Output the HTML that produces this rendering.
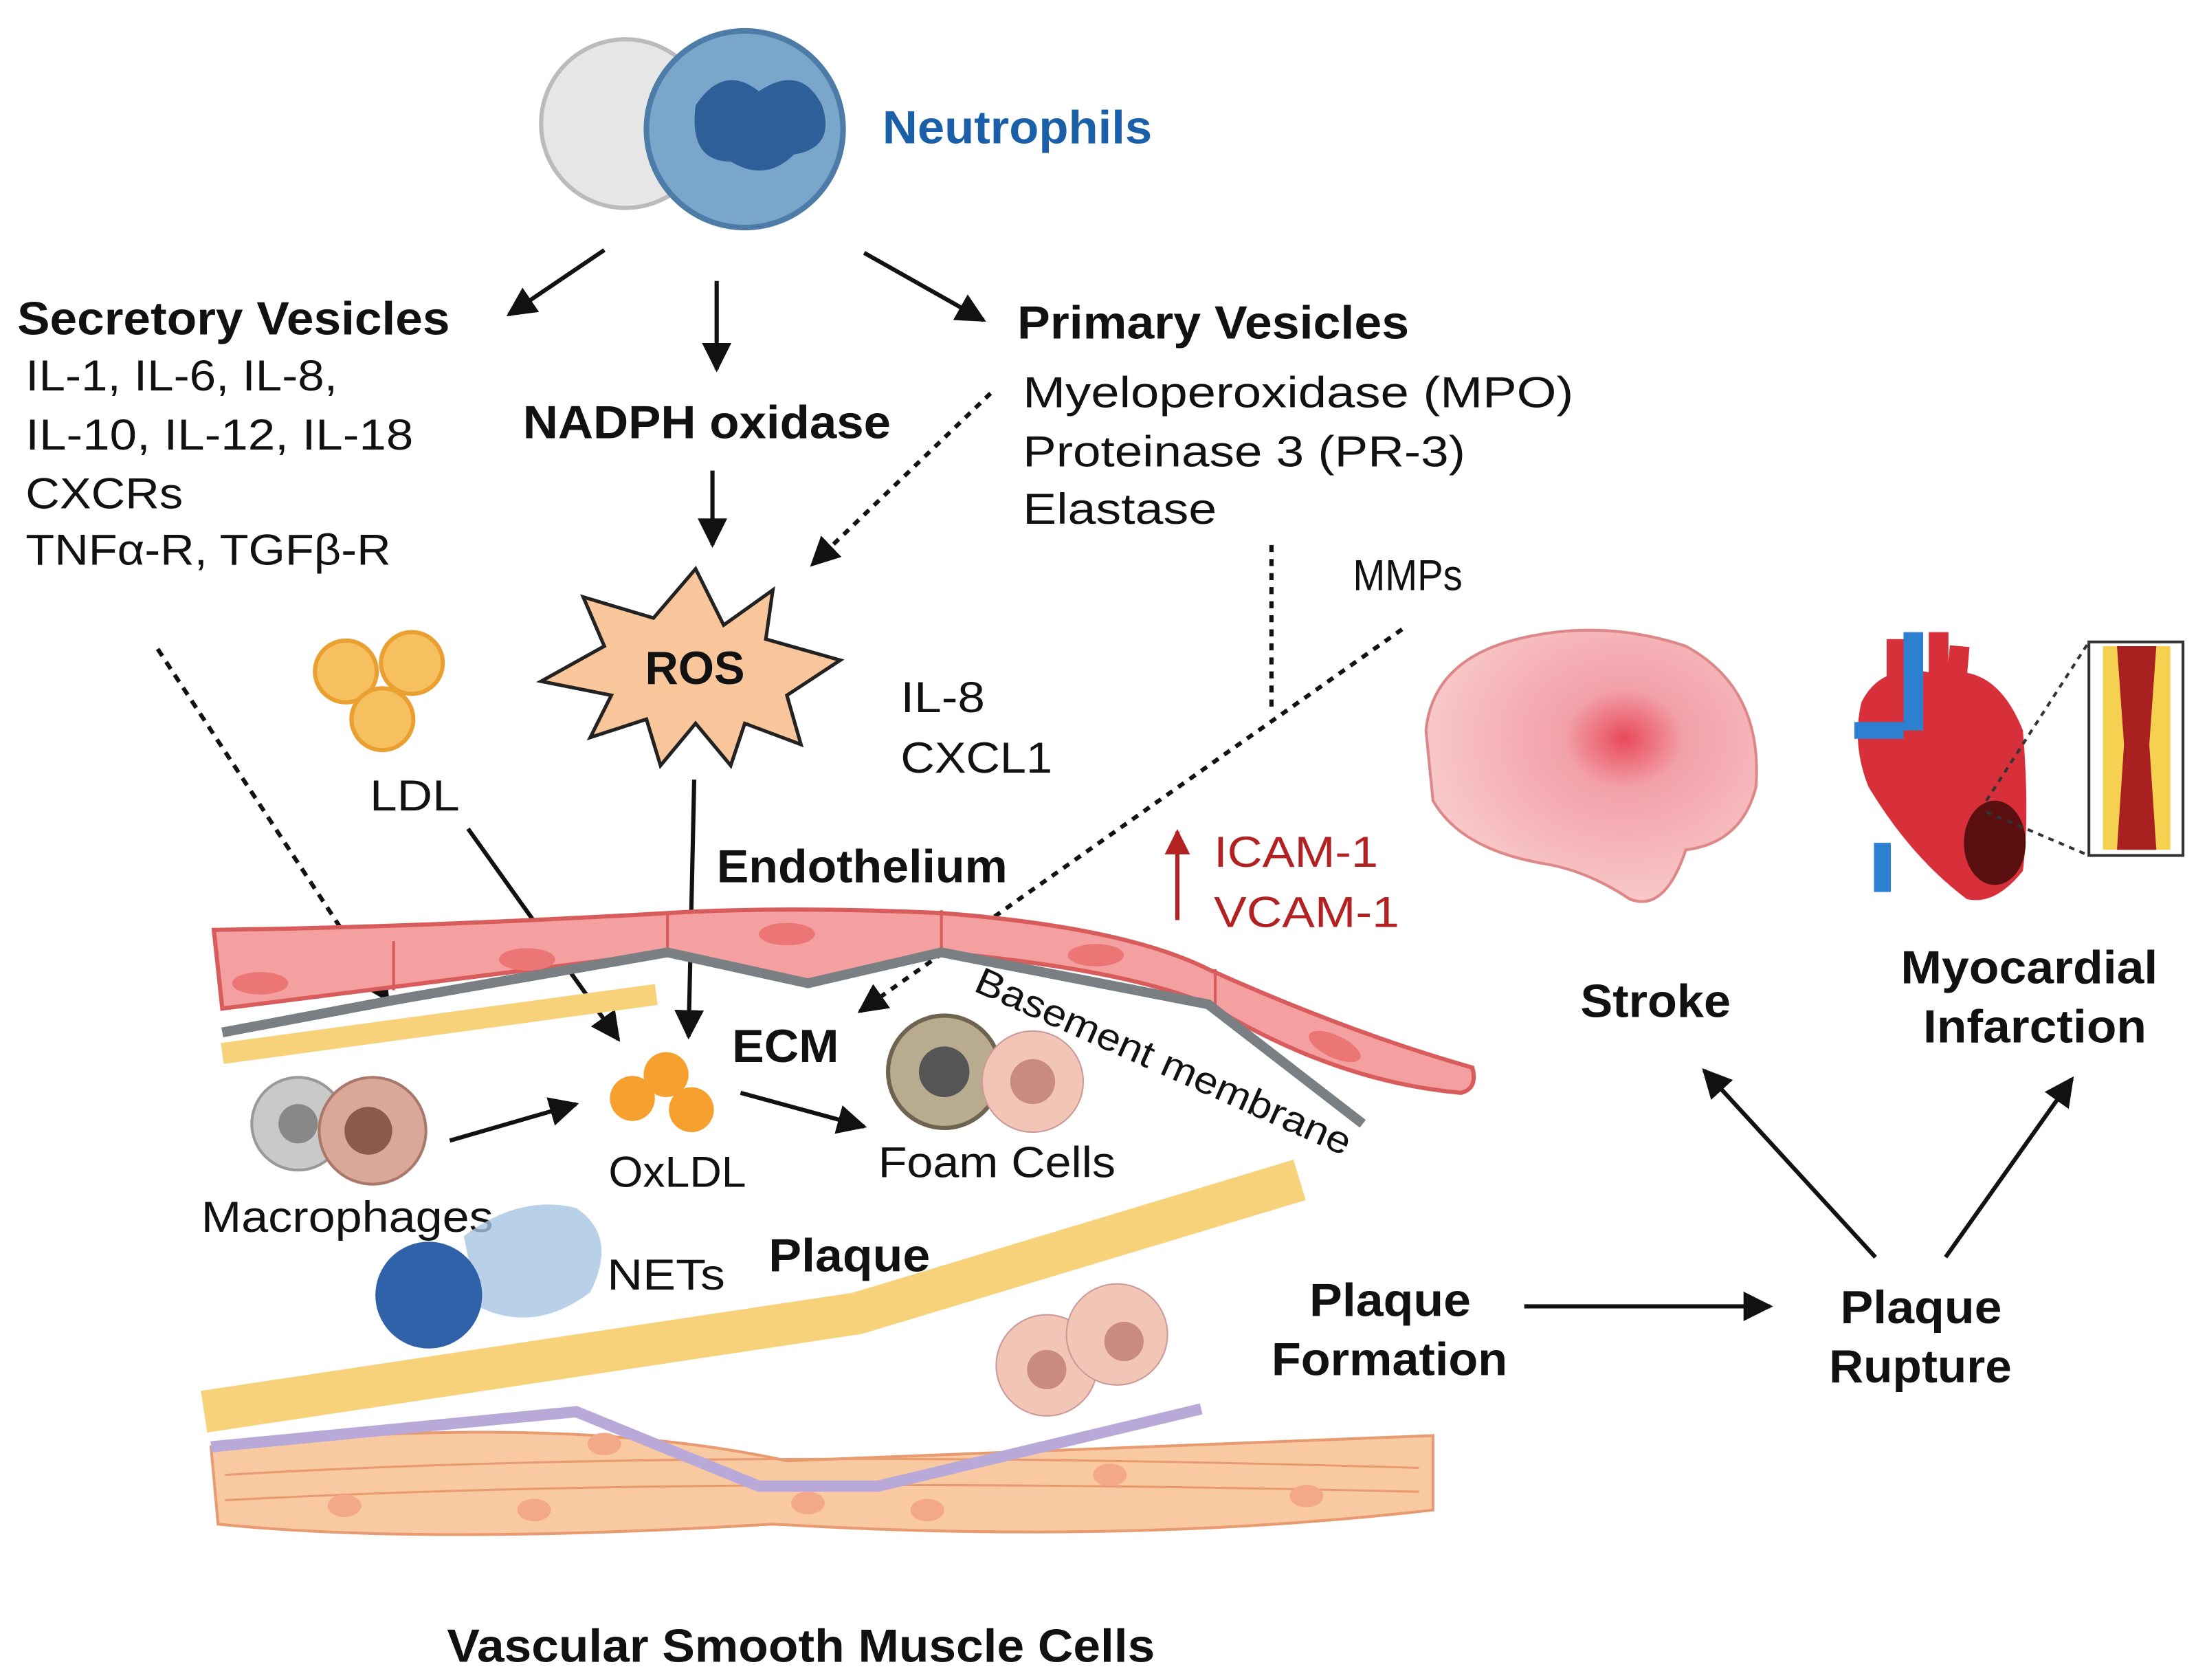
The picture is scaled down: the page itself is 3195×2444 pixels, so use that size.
<!DOCTYPE html>
<html><head><meta charset="utf-8"><style>
html,body{margin:0;padding:0;background:#fff}
svg{display:block}
text{font-family:"Liberation Sans",sans-serif;fill:#111}
.b{font-weight:bold}
</style></head><body>
<svg width="3195" height="2444" viewBox="0 0 1563 1196" xmlns="http://www.w3.org/2000/svg">
<defs>
<marker id="ah" viewBox="0 0 10 10" refX="9" refY="5" markerWidth="7" markerHeight="7" orient="auto"><path d="M0,0 L10,5 L0,10 z" fill="#111"/></marker>
<marker id="ar" viewBox="0 0 10 10" refX="9" refY="5" markerWidth="6" markerHeight="6" orient="auto"><path d="M0,0 L10,5 L0,10 z" fill="#b22222"/></marker>
<radialGradient id="br" cx="0.6" cy="0.4" r="0.6"><stop offset="0" stop-color="#e84a5a"/><stop offset="0.3" stop-color="#f2a0a8"/><stop offset="1" stop-color="#f8c8c8"/></radialGradient>
</defs>

<circle cx="445" cy="88" r="60" fill="#e6e6e6" stroke="#bbb" stroke-width="3"/>
<circle cx="530" cy="92" r="70" fill="#7aa6cc" stroke="#4d7ca8" stroke-width="4"/>
<path d="M495,75 q20,-30 45,-10 q30,-20 45,10 q10,30 -20,35 q-20,20 -45,5 q-30,0 -25,-40z" fill="#2f5f99"/>
<text x="628" y="102" class="b" font-size="33" textLength="192" lengthAdjust="spacingAndGlyphs" style="fill:#1a5fa8">Neutrophils</text>

<text x="12" y="238" class="b" font-size="33" textLength="308" lengthAdjust="spacingAndGlyphs">Secretory Vesicles</text>
<text x="18" y="278" font-size="31" textLength="222" lengthAdjust="spacingAndGlyphs">IL-1, IL-6, IL-8,</text>
<text x="18" y="320" font-size="31" textLength="276" lengthAdjust="spacingAndGlyphs">IL-10, IL-12, IL-18</text>
<text x="18" y="362" font-size="31" textLength="112" lengthAdjust="spacingAndGlyphs">CXCRs</text>
<text x="18" y="402" font-size="31" textLength="260" lengthAdjust="spacingAndGlyphs">TNFα-R, TGFβ-R</text>
<text x="372" y="312" class="b" font-size="33" textLength="262" lengthAdjust="spacingAndGlyphs">NADPH oxidase</text>
<text x="724" y="241" class="b" font-size="33" textLength="279" lengthAdjust="spacingAndGlyphs">Primary Vesicles</text>
<text x="728" y="290" font-size="31" textLength="392" lengthAdjust="spacingAndGlyphs">Myeloperoxidase (MPO)</text>
<text x="728" y="332" font-size="31" textLength="315" lengthAdjust="spacingAndGlyphs">Proteinase 3 (PR-3)</text>
<text x="728" y="373" font-size="31" textLength="138" lengthAdjust="spacingAndGlyphs">Elastase</text>
<text x="963" y="420" font-size="31" textLength="78" lengthAdjust="spacingAndGlyphs">MMPs</text>

<g stroke="#111" stroke-width="3" fill="none">
<line x1="430" y1="178" x2="362" y2="224" marker-end="url(#ah)"/>
<line x1="510" y1="200" x2="510" y2="263" marker-end="url(#ah)"/>
<line x1="615" y1="180" x2="700" y2="228" marker-end="url(#ah)"/>
<line x1="507" y1="335" x2="507" y2="388" marker-end="url(#ah)"/>
<line x1="705" y1="280" x2="578" y2="402" stroke-dasharray="5,5" marker-end="url(#ah)"/>
<line x1="112" y1="462" x2="276" y2="712" stroke-dasharray="6,5" marker-end="url(#ah)"/>
<line x1="333" y1="590" x2="440" y2="740" marker-end="url(#ah)"/>
<line x1="494" y1="555" x2="490" y2="738" marker-end="url(#ah)"/>
<line x1="998" y1="448" x2="612" y2="720" stroke-dasharray="5,5" marker-end="url(#ah)"/>
<line x1="905" y1="388" x2="905" y2="505" stroke-dasharray="5,5"/>
<line x1="320" y1="812" x2="410" y2="786" marker-end="url(#ah)"/>
<line x1="527" y1="778" x2="615" y2="802" marker-end="url(#ah)"/>
<line x1="1085" y1="930" x2="1260" y2="930" marker-end="url(#ah)"/>
<line x1="1335" y1="895" x2="1213" y2="762" marker-end="url(#ah)"/>
<line x1="1385" y1="895" x2="1475" y2="768" marker-end="url(#ah)"/>
</g>

<polygon points="495,405 515,445 550,420 545,455 598,470 560,495 570,530 530,515 520,545 495,515 470,545 460,512 420,525 435,495 385,485 430,460 415,425 465,440" fill="#f9c59a" stroke="#222" stroke-width="2.5"/>
<text x="459" y="487" class="b" font-size="33" textLength="71" lengthAdjust="spacingAndGlyphs">ROS</text>
<text x="641" y="507" font-size="31" textLength="60" lengthAdjust="spacingAndGlyphs">IL-8</text>
<text x="641" y="550" font-size="31" textLength="108" lengthAdjust="spacingAndGlyphs">CXCL1</text>

<circle cx="246" cy="478" r="22" fill="#f6c060" stroke="#e9a030" stroke-width="3"/>
<circle cx="293" cy="472" r="22" fill="#f6c060" stroke="#e9a030" stroke-width="3"/>
<circle cx="272" cy="512" r="22" fill="#f6c060" stroke="#e9a030" stroke-width="3"/>
<text x="263" y="577" font-size="31" textLength="64" lengthAdjust="spacingAndGlyphs">LDL</text>

<path d="M152,662 Q300,660 475,650 Q560,645 670,650 Q800,660 860,690 Q960,735 1048,760 Q1052,775 1040,778 Q950,770 860,715 Q800,690 670,678 L575,700 L475,678 Q300,700 158,718 z" fill="#f4a0a0" stroke="#d95c5c" stroke-width="3"/>
<g stroke="#d95c5c" stroke-width="2" fill="none"><line x1="280" y1="670" x2="280" y2="705"/><line x1="475" y1="650" x2="475" y2="676"/><line x1="670" y1="648" x2="670" y2="676"/><line x1="865" y1="690" x2="865" y2="716"/></g>
<g fill="#ec7575"><ellipse cx="185" cy="700" rx="20" ry="8"/><ellipse cx="375" cy="683" rx="20" ry="8"/><ellipse cx="560" cy="665" rx="20" ry="8"/><ellipse cx="780" cy="680" rx="20" ry="8"/><ellipse cx="950" cy="745" rx="20" ry="8" transform="rotate(25 950 745)"/></g>
<polyline points="158,735 280,712 475,678 575,700 670,678 860,715 970,800" fill="none" stroke="#7a7f84" stroke-width="7"/>
<line x1="158" y1="750" x2="467" y2="708" stroke="#f8d27a" stroke-width="15"/>
<text x="510" y="628" class="b" font-size="33" textLength="207" lengthAdjust="spacingAndGlyphs">Endothelium</text>
<line x1="838" y1="655" x2="838" y2="592" stroke="#b22222" stroke-width="3" marker-end="url(#ar)"/>
<text x="864" y="617" font-size="31" textLength="117" lengthAdjust="spacingAndGlyphs" style="fill:#b22222">ICAM-1</text>
<text x="864" y="660" font-size="31" textLength="132" lengthAdjust="spacingAndGlyphs" style="fill:#b22222">VCAM-1</text>
<text x="521" y="756" class="b" font-size="33" textLength="76" lengthAdjust="spacingAndGlyphs">ECM</text>
<text x="692" y="705" font-size="27" transform="rotate(24 692 705)" textLength="290" lengthAdjust="spacingAndGlyphs">Basement membrane</text>

<polyline points="145,1005 610,935 925,840" fill="none" stroke="#f8d27a" stroke-width="30"/>
<path d="M150,1030 Q400,1005 560,1040 Q800,1030 1020,1022 L1020,1075 Q800,1100 550,1085 Q300,1100 155,1085 z" fill="#f9c9a2" stroke="#e89a70" stroke-width="2"/>
<g stroke="#e89a70" stroke-width="1.5" fill="none"><path d="M160,1050 Q500,1030 1010,1045"/><path d="M160,1068 Q500,1050 1010,1062"/></g>
<g fill="#f4a88a"><ellipse cx="245" cy="1072" rx="12" ry="8"/><ellipse cx="430" cy="1028" rx="12" ry="8"/><ellipse cx="380" cy="1075" rx="12" ry="8"/><ellipse cx="660" cy="1075" rx="12" ry="8"/><ellipse cx="790" cy="1050" rx="12" ry="8"/><ellipse cx="930" cy="1065" rx="12" ry="8"/><ellipse cx="575" cy="1070" rx="12" ry="8"/></g>
<polyline points="150,1030 410,1005 540,1058 625,1058 855,1003" fill="none" stroke="#b9a9d9" stroke-width="8"/>

<circle cx="212" cy="800" r="33" fill="#c9c9c9" stroke="#999" stroke-width="2"/>
<circle cx="265" cy="805" r="38" fill="#d9a898" stroke="#a9786a" stroke-width="2"/>
<circle cx="262" cy="805" r="17" fill="#8c5a4a"/>
<circle cx="212" cy="800" r="14" fill="#888"/>
<text x="143" y="877" font-size="31" textLength="208" lengthAdjust="spacingAndGlyphs">Macrophages</text>
<circle cx="474" cy="765" r="16" fill="#f6a030"/><circle cx="450" cy="782" r="16" fill="#f6a030"/><circle cx="492" cy="790" r="16" fill="#f6a030"/>
<text x="433" y="845" font-size="31" textLength="98" lengthAdjust="spacingAndGlyphs">OxLDL</text>
<circle cx="672" cy="763" r="40" fill="#b8ab90" stroke="#6e6450" stroke-width="3"/>
<circle cx="672" cy="763" r="18" fill="#555"/>
<circle cx="735" cy="770" r="36" fill="#f2c6b6" stroke="#c99"/>
<circle cx="735" cy="770" r="16" fill="#c98a80"/>
<text x="625" y="838" font-size="31" textLength="169" lengthAdjust="spacingAndGlyphs">Foam Cells</text>
<path d="M330,880 Q370,850 410,860 Q440,880 420,920 Q380,950 340,930 z" fill="#a8c4e4" opacity="0.8"/>
<circle cx="305" cy="922" r="38" fill="#2f62a8"/>
<text x="432" y="918" font-size="31" textLength="84" lengthAdjust="spacingAndGlyphs">NETs</text>
<text x="547" y="905" class="b" font-size="33" textLength="115" lengthAdjust="spacingAndGlyphs">Plaque</text>
<circle cx="745" cy="972" r="36" fill="#f2c6b6" stroke="#c99"/><circle cx="745" cy="975" r="14" fill="#c98a80"/>
<circle cx="795" cy="950" r="36" fill="#f2c6b6" stroke="#c99"/><circle cx="800" cy="955" r="14" fill="#c98a80"/>

<text x="932" y="937" class="b" font-size="33" textLength="115" lengthAdjust="spacingAndGlyphs">Plaque</text>
<text x="905" y="979" class="b" font-size="33" textLength="168" lengthAdjust="spacingAndGlyphs">Formation</text>
<text x="1310" y="942" class="b" font-size="33" textLength="115" lengthAdjust="spacingAndGlyphs">Plaque</text>
<text x="1302" y="984" class="b" font-size="33" textLength="130" lengthAdjust="spacingAndGlyphs">Rupture</text>

<path d="M1015,520 Q1020,470 1080,455 Q1140,440 1200,460 Q1255,490 1250,560 Q1240,600 1200,605 Q1185,650 1160,640 Q1130,620 1100,615 Q1040,605 1020,570 z" fill="url(#br)" stroke="#d88" stroke-width="2"/>
<text x="1125" y="724" class="b" font-size="33" textLength="107" lengthAdjust="spacingAndGlyphs">Stroke</text>
<path d="M1325,500 Q1340,470 1380,480 Q1420,470 1440,520 Q1445,580 1440,620 Q1420,645 1400,640 Q1360,610 1330,560 Q1318,530 1325,500z" fill="#d8303a"/>
<path d="M1350,455 L1350,495 M1380,450 L1380,490 M1395,460 L1392,495" stroke="#d8303a" stroke-width="14"/>
<path d="M1362,450 L1362,520" stroke="#2d7fd0" stroke-width="14"/>
<path d="M1320,520 L1355,520 M1340,600 L1340,635" stroke="#2d7fd0" stroke-width="12"/>
<ellipse cx="1420" cy="600" rx="22" ry="30" fill="#5a1010"/>
<rect x="1487" y="457" width="67" height="152" fill="#fff" stroke="#333" stroke-width="2"/>
<path d="M1497,460 L1545,460 L1545,605 L1497,605z" fill="#f6d050"/>
<path d="M1507,460 L1535,460 L1530,530 L1535,605 L1507,605 L1512,530z" fill="#a82020"/>
<line x1="1414" y1="570" x2="1487" y2="457" stroke="#333" stroke-width="2" stroke-dasharray="4,4"/>
<line x1="1414" y1="578" x2="1487" y2="609" stroke="#333" stroke-width="2" stroke-dasharray="4,4"/>
<text x="1353" y="700" class="b" font-size="33" textLength="183" lengthAdjust="spacingAndGlyphs">Myocardial</text>
<text x="1369" y="742" class="b" font-size="33" textLength="159" lengthAdjust="spacingAndGlyphs">Infarction</text>

<text x="318" y="1183" class="b" font-size="33" textLength="504" lengthAdjust="spacingAndGlyphs">Vascular Smooth Muscle Cells</text>
</svg>
</body></html>
